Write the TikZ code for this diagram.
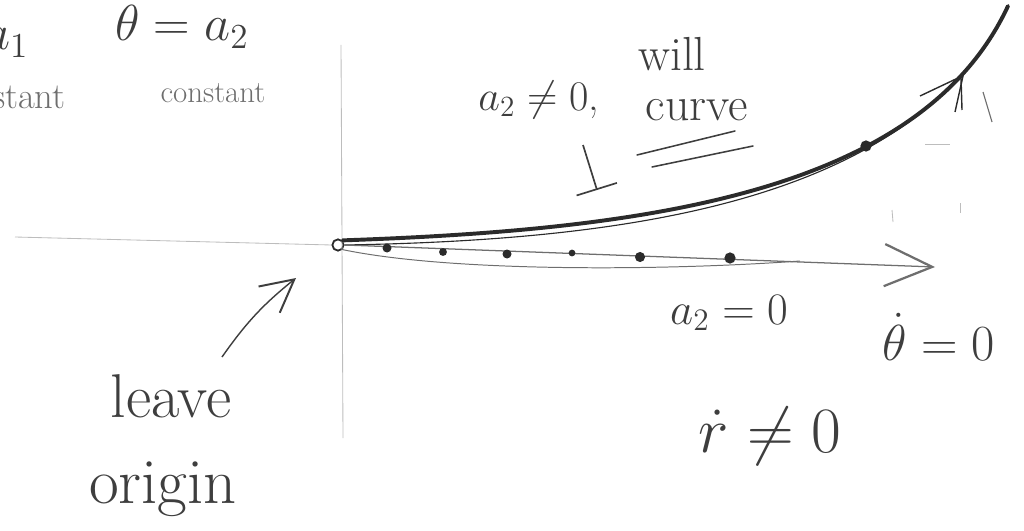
\documentclass[tikz,border=0pt]{standalone}
\usetikzlibrary{arrows.meta}
\definecolor{Graphite}  {HTML}{2B2B2B}
\definecolor{PencilGray}{HTML}{3E3E3E}
\definecolor{SoftGray}  {HTML}{6E6E6E}
\definecolor{FaintGray} {HTML}{BDBDBD}
\tikzset{
  hand/.style={inner sep=0pt,text=PencilGray,
               font=\fontsize{20.74}{20.74}\selectfont,scale=#1/20.74},
  faint/.style={line width=0.6pt,color=FaintGray},
  traj/.style={line width=0.7pt,color=SoftGray},
  curveline/.style={line width=2.8pt,color=Graphite,line cap=round},
  uline/.style={line width=1.1pt,color=PencilGray,line cap=round},
  parr/.style={-{Straight Barb[length=23pt,width=24pt,line width=1.4pt]},
               line width=1pt,color=PencilGray},
  tarr/.style={-{Straight Barb[length=34pt,width=30pt,line width=1.6pt]},
               line width=0.9pt,color=SoftGray},
  barr/.style={-{Bar[width=30pt,line width=1.2pt]},line width=1.2pt,color=PencilGray},
}
\begin{document}
\begin{tikzpicture}[x=0.025cm,y=-0.025cm]
  \useasboundingbox (0,0) rectangle (1024,531);
  \clip (0,0) rectangle (1024,531);

  % axes and origin
  \node[circle,draw=Graphite,line width=1.3pt,inner sep=0pt,minimum size=8pt]
    (O) at (338,245){};
  \coordinate (axL) at (15,237);
  \coordinate (axT) at (341,45);
  \coordinate (axB) at (343,438);
  \draw[faint] (axL) -- (O.west);
  \draw[faint] (axT) -- (axB);

  % curved path, a_2 not zero
  \coordinate (curveEnd) at (1008,6);
  \draw[curveline] (O.north east) .. controls (640,230) and (920,195) .. (curveEnd);
  \draw[line width=0.8pt,Graphite] (O.east) .. controls (630,240) and (912,202) .. (curveEnd);
  \fill[Graphite] (866,146) circle (4pt);
  \draw[line width=1pt,Graphite] (920,96) -- (958,78);
  \draw[line width=1pt,Graphite] (963,76) -- (955,112);
  \draw[line width=1pt,Graphite] (961,78) -- (962,110);
  \draw[line width=0.8pt,SoftGray] (983,92) -- (992,122);
  \draw[faint] (925,144) -- (950,144);
  \draw[faint] (892,210) -- (893,222);
  \draw[faint] (960,203) -- (960,213);

  % straight path, a_2 = 0
  \coordinate (tip) at (935,267);
  \coordinate (loopEnd) at (800,261);
  \draw[tarr] (O.east) -- (tip);
  \draw[traj] (O.south east) .. controls (450,272) and (660,271) .. (loopEnd);
  \foreach \dx/\dy/\dr in {387/248/3.2,443/252/2.8,507/254/3.2,
                           572/253/2.4,640/257/3.6,730/258/4.0}
    \fill[Graphite] (\dx,\dy) circle (\dr pt);

  % labels
  \node[hand=36,anchor=base east] (A1) at (29,50) {$r=a_1$};
  \node[hand=26,anchor=east,text=SoftGray] (C1) at (66,97) {constant};
  \node[hand=36] (A2) at (182,27) {$\theta=a_2$};
  \node[hand=22,text=SoftGray] (C2) at (213,93) {constant};

  \node[hand=30,anchor=west] (NZ) at (478,100) {$a_2\neq 0$,};
  \node[hand=34] (WILL) at (672,54) {will};
  \node[hand=34] (CURVE) at (697,110) {curve};
  \draw[uline] (637,155) -- (735,131);
  \draw[uline] (652,167) -- (753,146);
  \coordinate (downTop) at (583,145);
  \coordinate (downBot) at (597,190);
  \draw[barr] (downTop) -- (downBot);

  \node[hand=32] (Z) at (729,313) {$a_2=0$};
  \node[hand=36] (TD) at (939,337) {$\dot\theta=0$};
  \node[hand=46] (RD) at (770,436) {$\dot r\neq 0$};

  \node[hand=44] (LEAVE) at (171,396) {leave};
  \node[hand=46] (ORIG) at (163,489) {origin};
  \coordinate (leaveTail) at (222,357);
  \coordinate (leaveTip) at (296,278);
  \draw[parr] (leaveTail) to[bend left=8] (leaveTip);

\end{tikzpicture}
\end{document}
